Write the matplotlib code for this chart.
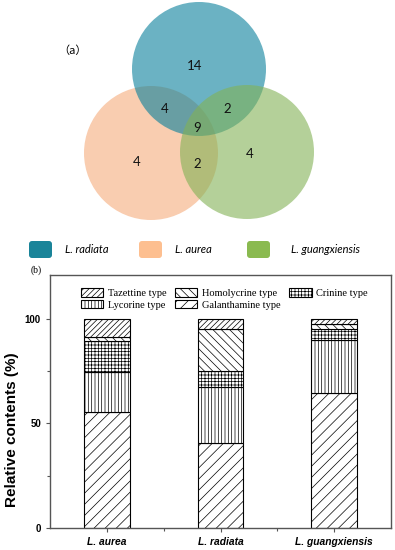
import numpy as np
import matplotlib
matplotlib.use("Agg")
import matplotlib.pyplot as plt
from matplotlib.patches import Circle, FancyBboxPatch

# ---- data ----
venn_species = ["L. radiata", "L. aurea", "L. guangxiensis"]
venn_counts = {"radiata": 14, "aurea": 4, "guangxiensis": 4,
               "radiata_aurea": 4, "radiata_guang": 2, "aurea_guang": 2,
               "all": 9}

species = ["L. aurea", "L. radiata", "L. guangxiensis"]
alkaloid_types = ["Galanthamine type", "Lycorine type", "Crinine type",
                  "Homolycrine type", "Tazettine type"]
galanthamine = [55.5, 40.5, 64.6]
lycorine = [19.0, 26.8, 25.5]
crinine = [15.0, 8.0, 5.0]
homolycrine = [2.0, 19.7, 2.3]
tazettine = [8.5, 5.0, 2.6]

plt.rcParams["hatch.linewidth"] = 0.5
plt.rcParams["hatch.color"] = "#333333"

W, H = 395, 550
fig = plt.figure(figsize=(W / 100, H / 100), dpi=100)

# ---- (a) Venn diagram, pixel coordinates ----
vh = 265
axv = fig.add_axes([0, 1 - vh / H, 1, vh / H])
axv.set_xlim(0, W)
axv.set_ylim(vh, 0)
axv.axis("off")

axv.add_patch(Circle((151, 153), 67, facecolor="#f9cdb0", edgecolor="none"))
axv.add_patch(Circle((199, 69), 67, facecolor="#08809b", alpha=0.6, edgecolor="none"))
axv.add_patch(Circle((247, 152), 67, facecolor="#82b255", alpha=0.6, edgecolor="none"))

num_font = dict(family="Lato", fontsize=9.5, color="#111111", ha="center", va="center")
axv.text(195, 66, str(venn_counts["radiata"]), **num_font)
axv.text(165, 109, str(venn_counts["radiata_aurea"]), **num_font)
axv.text(227, 109, str(venn_counts["radiata_guang"]), **num_font)
axv.text(197, 128, str(venn_counts["all"]), **num_font)
axv.text(137, 162, str(venn_counts["aurea"]), **num_font)
axv.text(197, 164, str(venn_counts["aurea_guang"]), **num_font)
axv.text(250, 154, str(venn_counts["guangxiensis"]), **num_font)
axv.text(73, 51, "（a）", family=["Noto Sans CJK SC", "DejaVu Sans"], fontsize=8,
         ha="center", va="center")

leg_colors = ["#1a8499", "#fdbf90", "#8aba50"]
leg_box_x = [29, 139, 247]
leg_text_x = [65, 175, 291]
for name, c, bx, tx in zip(venn_species, leg_colors, leg_box_x, leg_text_x):
    axv.add_patch(FancyBboxPatch((bx, 241), 23, 17, boxstyle="round,pad=0,rounding_size=3",
                                 facecolor=c, edgecolor="none"))
    axv.text(tx, 249.5, name, family="Lato", style="italic", fontsize=8,
             ha="left", va="center")

# ---- (b) stacked bars ----
ax = fig.add_axes([50 / W, 22 / H, 341 / W, 253 / H])
x = np.arange(len(species))
series = [galanthamine, lycorine, crinine, homolycrine, tazettine]
hatches = ["///", "|||||", "+++++", "\\\\\\\\", "//////"]
bottom = np.zeros(len(species))
bars = {}
for name, vals, h in zip(alkaloid_types, series, hatches):
    bars[name] = ax.bar(x, vals, width=0.4, bottom=bottom, color="white",
                        edgecolor="black", linewidth=0.8, hatch=h, label=name)
    bottom += np.array(vals)

ax.set_xlim(-0.5, 2.5)
ax.set_ylim(0, 121)
ax.set_yticks([0, 50, 100])
ax.set_yticks([25, 75], minor=True)
ax.set_xticks(x)
ax.set_xticks([0.5, 1.5], minor=True)
ax.set_xticklabels(species, fontstyle="italic", fontweight="bold",
                   family="Liberation Sans", fontsize=7.4)
for lbl in ax.get_yticklabels():
    lbl.set_fontweight("bold")
    lbl.set_family("Liberation Sans")
    lbl.set_fontsize(7)
ax.tick_params(direction="out", length=3, width=0.8, color="#555555")
ax.tick_params(which="minor", direction="out", length=2, width=0.8, color="#555555")
for s in ax.spines.values():
    s.set_color("#555555")
    s.set_linewidth(1.0)

ax.set_ylabel("Relative contents (%)", family="Liberation Sans", fontweight="bold",
              fontsize=11)
ax.yaxis.set_label_coords(-0.09, 0.39)

order = ["Tazettine type", "Lycorine type", "Homolycrine type",
         "Galanthamine type", "Crinine type"]
ax.legend([bars[n] for n in order], order,
          ncol=3, loc="upper center", bbox_to_anchor=(0.51, 0.985), frameon=False,
          prop={"family": "Liberation Serif", "size": 7.5}, handlelength=2.2,
          handleheight=0.9, columnspacing=0.8, labelspacing=0.15, handletextpad=0.4)

fig.text(36 / W, 1 - 270 / H, "(b)", family="Liberation Serif", fontsize=7,
         ha="center", va="center")

fig.savefig("out.png", dpi=100)
